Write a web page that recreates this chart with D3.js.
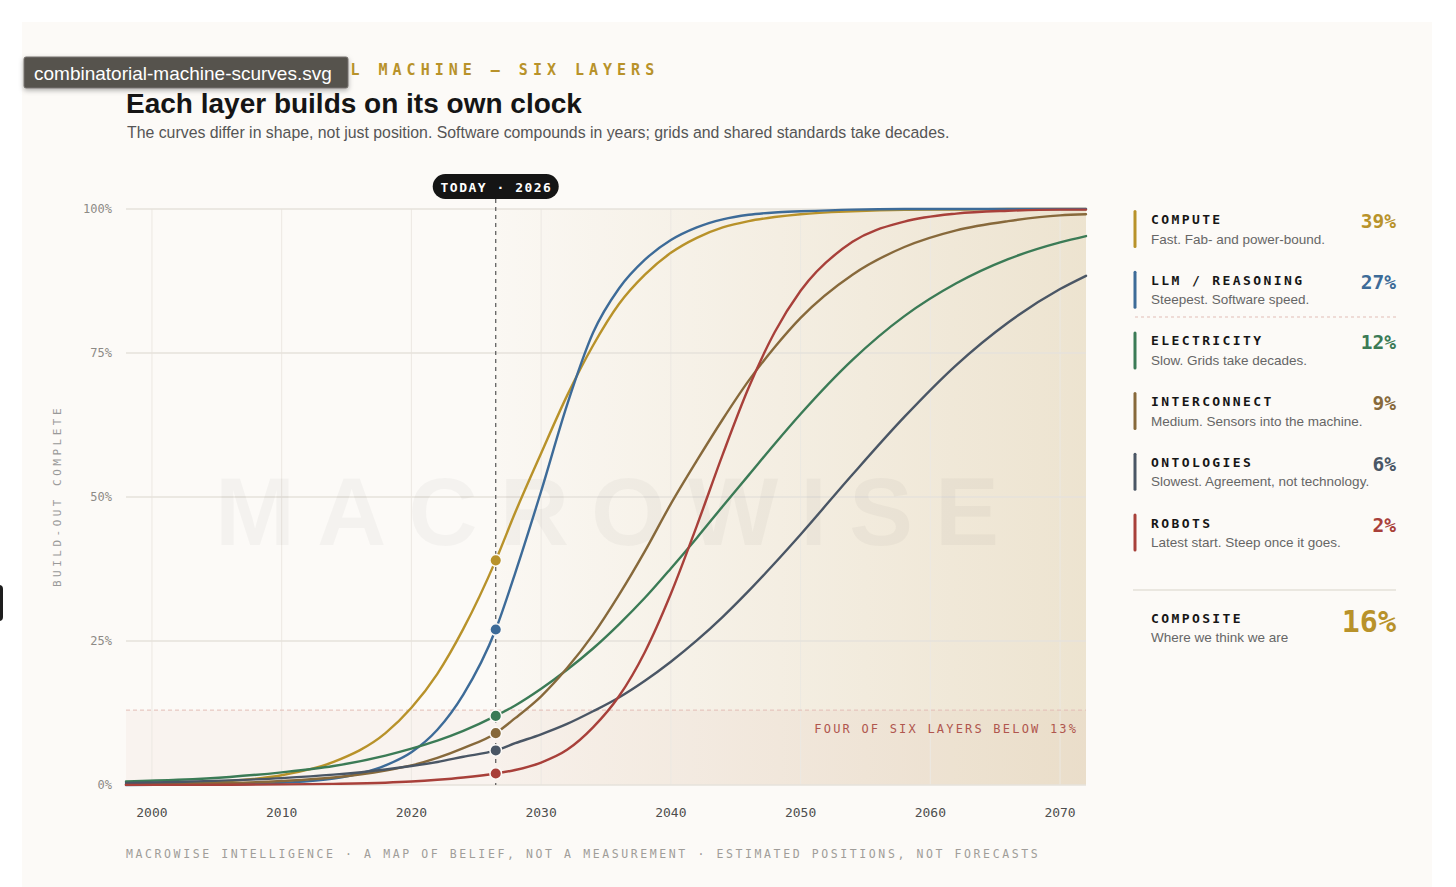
<!DOCTYPE html>
<html><head><meta charset="utf-8">
<script src="https://cdn.jsdelivr.net/npm/d3@7"></script>
<style>
html,body{margin:0;padding:0;background:#fff;}
svg{display:block;}
</style></head>
<body>
<svg id="c" width="1456" height="887"></svg>
<script>
// ---------- data ----------
const years = [1998, 2002, 2006, 2010, 2014, 2018, 2020, 2022, 2024, 2026.5, 2028, 2030, 2032, 2034, 2036, 2038, 2040, 2042, 2044, 2046, 2048, 2050, 2054, 2058, 2062, 2066, 2070, 2072];
const compute      = [0.1, 0.3, 0.7, 1.7, 4.0, 9.0, 13.4, 19.3, 27.1, 39, 47.3, 57.6, 67.6, 76.3, 83.5, 88.6, 92.4, 95.0, 96.8, 97.9, 98.6, 99.1, 99.6, 99.85, 99.9, 100, 100, 100];
const llm          = [0.01, 0.04, 0.12, 0.37, 1.1, 3.4, 5.7, 9.6, 15.7, 27, 36.8, 51, 66, 78.5, 86.2, 91.2, 94.6, 96.8, 98.2, 99.0, 99.4, 99.6, 99.9, 100, 100, 100, 100, 100];
const electricity  = [0.6, 0.9, 1.4, 2.2, 3.3, 5.1, 6.3, 7.7, 9.4, 12, 13.8, 16.7, 20.0, 23.7, 27.9, 32.5, 37.6, 42.9, 48.4, 53.8, 59.2, 64.4, 73.8, 81.4, 87.1, 91.3, 94.2, 95.3];
const interconnect = [0.1, 0.2, 0.35, 0.7, 1.3, 2.5, 3.4, 4.7, 6.4, 9, 11.6, 15.4, 20.3, 26.1, 33.0, 40.6, 48.8, 56.3, 63.5, 70.2, 76.0, 81.1, 88.6, 93.4, 96.3, 97.9, 98.9, 99.1];
const ontologies   = [0.34, 0.52, 0.8, 1.2, 1.8, 2.7, 3.3, 4.0, 4.9, 6, 7.25, 8.8, 10.6, 12.8, 15.2, 18.1, 21.4, 25.1, 29.2, 33.7, 38.5, 43.5, 53.9, 63.9, 72.9, 80.3, 86.1, 88.4];
const robots       = [0.02, 0.03, 0.05, 0.1, 0.2, 0.4, 0.6, 0.9, 1.3, 2, 2.6, 3.9, 6.1, 10.0, 15.4, 23.1, 33.2, 45.0, 57.4, 69.0, 78.6, 85.8, 94.3, 97.8, 99.2, 99.7, 99.9, 99.9];

const layerNames = ["COMPUTE", "LLM / REASONING", "ELECTRICITY", "INTERCONNECT", "ONTOLOGIES", "ROBOTS"];
const layerDescs = ["Fast. Fab- and power-bound.", "Steepest. Software speed.", "Slow. Grids take decades.", "Medium. Sensors into the machine.", "Slowest. Agreement, not technology.", "Latest start. Steep once it goes."];
const todayValues = [39, 27, 12, 9, 6, 2];
const layerSeries = [compute, llm, electricity, interconnect, ontologies, robots];
const layerColors = ["#b8922a", "#3d6b98", "#3b7b56", "#87693b", "#4a5665", "#a8403a"];
const compositeValue = 16;
const todayYear = 2026.5;
const todayLabel = "TODAY · 2026";
const thresholdValue = 13;
const xTicks = [2000, 2010, 2020, 2030, 2040, 2050, 2060, 2070];
const yTicks = [0, 25, 50, 75, 100];

// ---------- layout ----------
const MONO = "'DejaVu Sans Mono', monospace";
const SANS = "'Liberation Sans', Arial, sans-serif";
const svg = d3.select('#c');
const L = 126, R = 1086, T = 209, B = 785;
const x = d3.scaleLinear().domain([1998, 2072]).range([L, R]);
const y = d3.scaleLinear().domain([0, 100]).range([B, T]);

const defs = svg.append('defs');
const g1 = defs.append('linearGradient').attr('id', 'future').attr('x1', 0).attr('x2', 1).attr('y1', 0).attr('y2', 0);
g1.append('stop').attr('offset', 0).attr('stop-color', '#e8dcc3').attr('stop-opacity', 0.08);
g1.append('stop').attr('offset', 1).attr('stop-color', '#e8dcc3').attr('stop-opacity', 0.75);
const sh = defs.append('filter').attr('id', 'shadow').attr('x', -0.1).attr('y', -0.3).attr('width', 1.2).attr('height', 1.8);
sh.append('feDropShadow').attr('dx', 0).attr('dy', 2).attr('stdDeviation', 2.5).attr('flood-color', '#000').attr('flood-opacity', 0.3);

// card
svg.append('rect').attr('x', 22).attr('y', 22).attr('width', 1410).attr('height', 900).attr('fill', '#fcfaf7');

// header
svg.append('text').attr('x', 126).attr('y', 75).text('THE COMBINATORIAL MACHINE — SIX LAYERS')
  .attr('font-family', MONO).attr('font-size', 15).attr('font-weight', 'bold').attr('fill', '#b8922a')
  .style('letter-spacing', '5px');
svg.append('text').attr('x', 126).attr('y', 113).text('Each layer builds on its own clock')
  .attr('font-family', SANS).attr('font-size', 28).attr('font-weight', 'bold').attr('fill', '#151515');
svg.append('text').attr('x', 127).attr('y', 138).text('The curves differ in shape, not just position. Software compounds in years; grids and shared standards take decades.')
  .attr('font-family', SANS).attr('font-size', 15.85).attr('fill', '#555');

// future shading
svg.append('rect').attr('x', x(todayYear)).attr('y', T).attr('width', R - x(todayYear)).attr('height', B - T).attr('fill', 'url(#future)');
// band below threshold
svg.append('rect').attr('x', L).attr('y', y(thresholdValue)).attr('width', R - L).attr('height', B - y(thresholdValue))
  .attr('fill', '#b4574a').attr('opacity', 0.045);

// grid
svg.append('g').selectAll('line').data(xTicks).join('line')
  .attr('x1', d => x(d)).attr('x2', d => x(d)).attr('y1', T).attr('y2', B)
  .attr('stroke', '#ece8e2').attr('stroke-width', 1);
svg.append('g').selectAll('line').data(yTicks).join('line')
  .attr('x1', L).attr('x2', R).attr('y1', d => y(d)).attr('y2', d => y(d))
  .attr('stroke', '#e6e2db').attr('stroke-width', 1.5);

// watermark
svg.append('text').attr('x', 607 + 11).attr('y', 545).attr('text-anchor', 'middle').text('MACROWISE')
  .attr('font-family', SANS).attr('font-size', 96).attr('font-weight', 'bold').attr('fill', '#000').attr('opacity', 0.028)
  .style('letter-spacing', '22px');

// threshold line + label
svg.append('line').attr('x1', L).attr('x2', R).attr('y1', y(thresholdValue)).attr('y2', y(thresholdValue))
  .attr('stroke', '#e2bdb6').attr('stroke-width', 1).attr('stroke-dasharray', '4,3');
svg.append('text').attr('x', R - 10 + 2.2).attr('y', y(thresholdValue) + 23).attr('text-anchor', 'end')
  .text('FOUR OF SIX LAYERS BELOW 13%').attr('font-family', MONO).attr('font-size', 12).attr('fill', '#b0564e')
  .style('letter-spacing', '2.2px');

// axes labels
svg.append('g').selectAll('text').data(yTicks).join('text')
  .attr('x', 112).attr('y', d => y(d)).attr('dy', '0.35em').attr('text-anchor', 'end')
  .text(d => d + '%').attr('font-family', MONO).attr('font-size', 12).attr('fill', '#8d8a86');
svg.append('g').selectAll('text').data(xTicks).join('text')
  .attr('x', d => x(d)).attr('y', 812).attr('dy', '0.35em').attr('text-anchor', 'middle')
  .text(d => d).attr('font-family', MONO).attr('font-size', 13).attr('fill', '#4e4e4e');
svg.append('text').attr('transform', 'translate(61,496) rotate(-90)').attr('text-anchor', 'middle')
  .text('BUILD-OUT COMPLETE').attr('font-family', MONO).attr('font-size', 11).attr('fill', '#999')
  .style('letter-spacing', '3.5px');

// today line
svg.append('line').attr('x1', x(todayYear)).attr('x2', x(todayYear)).attr('y1', 199).attr('y2', B)
  .attr('stroke', '#555').attr('stroke-width', 1.2).attr('stroke-dasharray', '4,4');

// curves
const line = d3.line().x(d => x(d[0])).y(d => y(d[1])).curve(d3.curveMonotoneX);
svg.append('g').selectAll('path').data(layerSeries).join('path')
  .attr('d', s => line(years.map((yr, i) => [yr, s[i]])))
  .attr('fill', 'none').attr('stroke', (s, i) => layerColors[i]).attr('stroke-width', 2.4)
  .attr('stroke-linecap', 'round');

// dots
svg.append('g').selectAll('circle').data(todayValues).join('circle')
  .attr('cx', x(todayYear)).attr('cy', d => y(d)).attr('r', 5.8)
  .attr('fill', (d, i) => layerColors[i]).attr('stroke', '#fcfaf7').attr('stroke-width', 1.5);

// today badge
svg.append('rect').attr('x', x(todayYear) - 63).attr('y', 174).attr('width', 126).attr('height', 25).attr('rx', 12.5)
  .attr('fill', '#151515');
svg.append('text').attr('x', x(todayYear) + 0.75).attr('y', 187).attr('dy', '0.35em').attr('text-anchor', 'middle')
  .text(todayLabel).attr('font-family', MONO).attr('font-size', 13).attr('font-weight', 'bold').attr('fill', '#fff')
  .style('letter-spacing', '1.5px');

// legend
const LX = 1135, VX = 1396, step = 60.7, top0 = 210;
const lg = svg.append('g');
layerNames.forEach((n, i) => {
  const t = top0 + i * step;
  lg.append('rect').attr('x', LX - 1.5).attr('y', t).attr('width', 3).attr('height', 38).attr('rx', 1.5).attr('fill', layerColors[i]);
  lg.append('text').attr('x', 1151).attr('y', t + 14).text(n).attr('font-family', MONO).attr('font-size', 13)
    .attr('font-weight', 'bold').attr('fill', '#161616').style('letter-spacing', '2.4px');
  lg.append('text').attr('x', 1151).attr('y', t + 33.5).text(layerDescs[i]).attr('font-family', SANS).attr('font-size', 13.5)
    .attr('fill', '#666');
  lg.append('text').attr('x', VX).attr('y', t + 18).attr('text-anchor', 'end').text(todayValues[i] + '%')
    .attr('font-family', MONO).attr('font-size', 19.5).attr('font-weight', 'bold').attr('fill', layerColors[i]);
});
lg.append('line').attr('x1', LX).attr('x2', VX).attr('y1', 317).attr('y2', 317)
  .attr('stroke', '#e2bdb6').attr('stroke-dasharray', '3,3').attr('stroke-width', 1);
lg.append('line').attr('x1', 1133).attr('x2', VX).attr('y1', 590).attr('y2', 590)
  .attr('stroke', '#e4e0d8').attr('stroke-width', 1.5);
lg.append('text').attr('x', 1151).attr('y', 623).text('COMPOSITE').attr('font-family', MONO).attr('font-size', 13)
  .attr('font-weight', 'bold').attr('fill', '#161616').style('letter-spacing', '2.4px');
lg.append('text').attr('x', 1151).attr('y', 642).text('Where we think we are').attr('font-family', SANS).attr('font-size', 13.5)
  .attr('fill', '#666');
lg.append('text').attr('x', VX).attr('y', 632).attr('text-anchor', 'end').text(compositeValue + '%')
  .attr('font-family', MONO).attr('font-size', 30).attr('font-weight', 'bold').attr('fill', '#b8922a');

// footer
svg.append('text').attr('x', 126).attr('y', 858).text('MACROWISE INTELLIGENCE · A MAP OF BELIEF, NOT A MEASUREMENT · ESTIMATED POSITIONS, NOT FORECASTS')
  .attr('font-family', MONO).attr('font-size', 11.5).attr('fill', '#a09d99').style('letter-spacing', '2.6px');

// file-name tooltip overlay seen in the reference
const tip = svg.append('g');
tip.append('rect').attr('x', 24).attr('y', 57).attr('width', 324).attr('height', 31).attr('rx', 2)
  .attr('fill', '#57534e').attr('stroke', '#77736e').attr('stroke-width', 1).attr('filter', 'url(#shadow)');
tip.append('text').attr('x', 34).attr('y', 79.5).text('combinatorial-machine-scurves.svg')
  .attr('font-family', SANS).attr('font-size', 19).attr('fill', '#fff');
svg.append('rect').attr('x', -6).attr('y', 585).attr('width', 9).attr('height', 36).attr('rx', 4).attr('fill', '#1e1e1e');
</script>
</body></html>
